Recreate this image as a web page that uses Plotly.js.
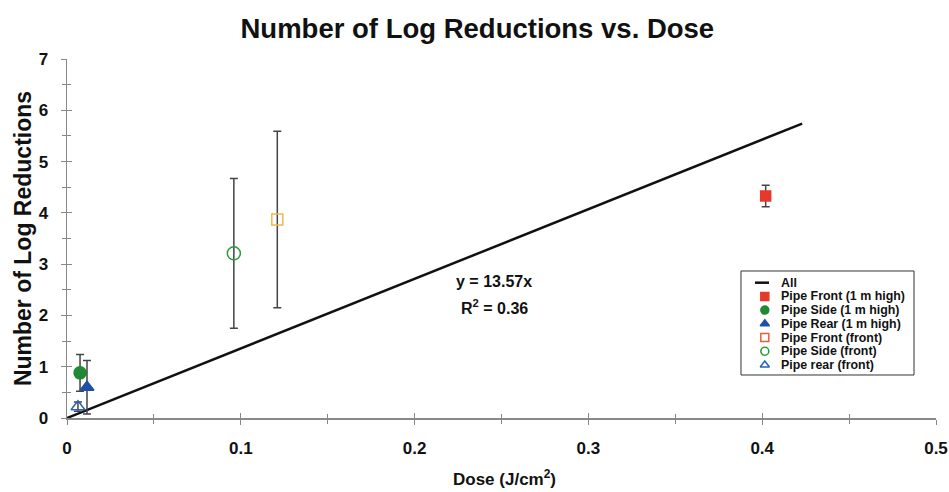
<!DOCTYPE html>
<html>
<head>
<meta charset="utf-8">
<script src="https://cdn.plot.ly/plotly-3.0.1.min.js"></script>
<style>html,body{margin:0;padding:0;background:#fff;}#chart{width:949px;height:492px;}</style>
</head>
<body>
<div id="chart"></div>
<script>
// Trend line (All): y = 13.57x
const trendX = [0, 0.423];
const trendSlope = 13.57;
const trendY = trendX.map(x => trendSlope * x);
const trendName = "All";

// Series
const seriesNames = ["Pipe Front (1 m high)", "Pipe Side (1 m high)", "Pipe Rear (1 m high)",
                     "Pipe Front (front)", "Pipe Side (front)", "Pipe rear (front)"];
const doseX = [0.402, 0.0075, 0.0115, 0.121, 0.096, 0.0063];
const logRed = [4.33, 0.88, 0.60, 3.87, 3.21, 0.22];
const errY = [0.21, 0.36, 0.52, 1.72, 1.46, 0.09];

const colors = ["#e5392b", "#1f8a32", "#1f4fa6", "#f1b84a", "#2a9a3a", "#2a62b8"];
const legendColors = ["#e5392b", "#1f8a32", "#1f4fa6", "#e8603a", "#2a9a3a", "#2a62b8"];
const symbols = ["square", "circle", "triangle-up", "square-open", "circle-open", "triangle-up-open"];
const sizes = [10, 12, 12, 11, 13, 12];

const FONT = "Liberation Sans, Arial, sans-serif";
const traces = [{
  x: trendX, y: trendY, type: "scatter", mode: "lines", name: trendName,
  line: {color: "#111", width: 2.5}, showlegend: false
}];
for (let i = 0; i < seriesNames.length; i++) {
  traces.push({
    x: [doseX[i]], y: [logRed[i]], type: "scatter", mode: "markers", name: seriesNames[i],
    showlegend: false,
    marker: {symbol: symbols[i], color: colors[i], size: sizes[i], line: {color: colors[i], width: 1.5}},
    error_y: {type: "data", array: [errY[i]], visible: true, color: "#444", thickness: 1.5, width: 4}
  });
}
// duplicate axis for inside ticks (cross ticks)
traces.push({x: [0], y: [0], xaxis: "x2", yaxis: "y2", mode: "markers", marker: {opacity: 0}, showlegend: false, hoverinfo: "skip"});

// Custom compact legend (box + symbols + labels), laid out in a unit overlay axis
const legX0 = 0.7756, legX1 = 0.9747, legY0 = 0.1198, legY1 = 0.4095;
const legRowTop = 0.3769, legRowStep = 0.0382;
const legSymX = 0.803, legTextX = 0.8205;
const legendLabels = [trendName].concat(seriesNames);
const legRowsY = legendLabels.map((_, i) => legRowTop - i * legRowStep);
for (let i = 0; i < seriesNames.length; i++) {
  traces.push({
    x: [legSymX], y: [legRowsY[i + 1]], xaxis: "x3", yaxis: "y3", mode: "markers", showlegend: false, hoverinfo: "skip",
    marker: {symbol: symbols[i], color: legendColors[i], size: 8, line: {color: legendColors[i], width: 1.5}}
  });
}
const shapes = [
  {type: "rect", xref: "paper", yref: "paper", x0: legX0, x1: legX1, y0: legY0, y1: legY1,
   line: {color: "#333", width: 1}, fillcolor: "#fff", layer: "below"},
  {type: "line", xref: "paper", yref: "paper", x0: 0.7917, x1: 0.8078, y0: legRowsY[0], y1: legRowsY[0],
   line: {color: "#111", width: 2.5}}
];
const annotations = legendLabels.map((t, i) => ({
  x: legTextX, y: legRowsY[i], xref: "paper", yref: "paper", xanchor: "left", yanchor: "middle",
  showarrow: false, borderpad: 0, text: t, font: {family: FONT, size: 12.4, color: "#111", weight: "bold"}
}));
annotations.push({
  x: 0.2457, y: 2.652, xref: "x", yref: "y", showarrow: false, text: "<b>y = 13.57x</b>",
  font: {family: FONT, size: 16, color: "#111"}
});
annotations.push({
  x: 0.2457, y: 2.164, xref: "x", yref: "y", showarrow: false, text: "<b>R<sup>2</sup> = 0.36</b>",
  font: {family: FONT, size: 16, color: "#111"}
});
// x-axis title
annotations.push({
  x: 0.504, y: -0.167, xref: "paper", yref: "paper", xanchor: "center", yanchor: "middle", showarrow: false,
  text: "<b>Dose (J/cm<sup>2</sup>)</b>", font: {family: FONT, size: 17, color: "#111"}
});

const tickFont = {family: FONT, size: 17, color: "#111", weight: "bold"};
const layout = {
  width: 949, height: 492,
  margin: {l: 67, r: 13, t: 59, b: 74},
  paper_bgcolor: "#fff", plot_bgcolor: "#fff",
  title: {text: "<b>Number of Log Reductions vs. Dose</b>", x: 0.503, xanchor: "center", y: 0.943, yanchor: "middle",
          font: {family: FONT, size: 27.5, color: "#111"}},
  xaxis: {range: [0, 0.5], dtick: 0.1, showgrid: false, zeroline: false,
          showline: true, linecolor: "#888", linewidth: 1.5, ticks: "outside", ticklen: 5, tickcolor: "#888",
          minor: {dtick: 0.05, ticks: "outside", ticklen: 4, tickcolor: "#888"},
          tickfont: tickFont, ticklabelstandoff: 9},
  yaxis: {range: [0, 7], dtick: 1, showgrid: false, zeroline: false,
          showline: true, linecolor: "#888", linewidth: 1.5, ticks: "outside", ticklen: 5, tickcolor: "#888",
          minor: {dtick: 0.5, ticks: "outside", ticklen: 4, tickcolor: "#888"},
          tickfont: tickFont, ticklabelstandoff: 9,
          title: {text: "<b>Number of Log Reductions</b>", standoff: 0,
                  font: {family: FONT, size: 23, color: "#111"}}},
  xaxis2: {overlaying: "x", range: [0, 0.5], dtick: 0.1, showticklabels: false, showgrid: false, zeroline: false,
           ticks: "inside", ticklen: 5, tickcolor: "#888", minor: {dtick: 0.05, ticks: "inside", ticklen: 4, tickcolor: "#888"}, anchor: "y2"},
  yaxis2: {overlaying: "y", range: [0, 7], dtick: 1, showticklabels: false, showgrid: false, zeroline: false,
           ticks: "inside", ticklen: 5, tickcolor: "#888", minor: {dtick: 0.5, ticks: "inside", ticklen: 4, tickcolor: "#888"}, anchor: "x2"},
  xaxis3: {overlaying: "x", range: [0, 1], visible: false, anchor: "y3", fixedrange: true},
  yaxis3: {overlaying: "y", range: [0, 1], visible: false, anchor: "x3", fixedrange: true},
  showlegend: false,
  shapes: shapes,
  annotations: annotations
};
Plotly.newPlot("chart", traces, layout, {displayModeBar: false, staticPlot: true});
</script>
</body>
</html>
